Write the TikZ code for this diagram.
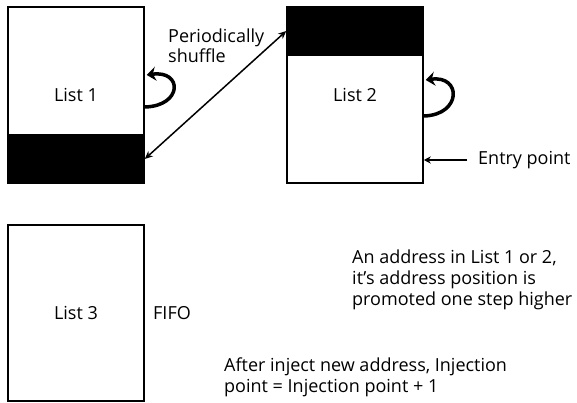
\documentclass[tikz,border=0pt]{standalone}
\usepackage{fontspec}
\setmainfont{Open Sans}
\usetikzlibrary{arrows.meta,calc}
\begin{document}
\begin{tikzpicture}[x=1pt,y=-1pt,
  every node/.style={font=\fontsize{18}{21}\selectfont},
  listbox/.style={draw, line width=1.5pt, minimum width=136pt, minimum height=176pt, inner sep=0pt},
  band/.style={draw, fill=black, line width=1.5pt, minimum width=136pt, minimum height=48pt, inner sep=0pt},
  note/.style={inner sep=0pt, align=left},
  loop/.style={line width=3.5pt, -{Stealth[length=9pt,width=14pt]}},
  swap/.style={line width=1.5pt, {Stealth[length=8pt,width=7pt]}-{Stealth[length=8pt,width=7pt]}},
  pointer/.style={line width=1.3pt, -{Stealth[length=7pt,width=7pt]}}]
\useasboundingbox (0,0) rectangle (577,403);

% the three lists
\node[listbox] (l1) at (76,95) {List 1};
\node[listbox] (l2) at (355,95) {List 2};
\node[listbox] (l3) at (76,313) {List 3};

% shaded ends of list 1 and list 2
\node[band, anchor=south] (b1) at (l1.south) {};
\node[band, anchor=north] (b2) at (l2.north) {};

% promotion loops
\draw[loop] ($(l1.east)+(0,12)$) .. controls +(38,-1) and +(36,-5) .. ($(l1.east)+(2,-20)$);
\draw[loop] ($(l2.east)+(0,21)$) .. controls +(38,-1) and +(36,-5) .. ($(l2.east)+(2,-15)$);

% periodic shuffle between the two lists
\draw[swap] (b1.east) -- (b2.west);
\node[note, anchor=base west, font=\fontsize{18}{20}\selectfont] (shuf) at (168,63) {Periodically\\shuffle};

% entry point of list 2
\node[note, anchor=west] (entry) at (478,160) {Entry point};
\draw[pointer] ($(entry.west)+(-11,0)$) -- (l2.east |- entry.west);

% labels (base anchor sits on the last line)
\node[note, anchor=west] (fifo) at (153,313) {FIFO};
\node[note, anchor=base west] (promo) at (352,305) {An address in List 1 or 2,\\it’s address position is\\promoted one step higher};
\node[note, anchor=base west] (inj) at (224,392) {After inject new address, Injection\\point = Injection point + 1};
\end{tikzpicture}
\end{document}
